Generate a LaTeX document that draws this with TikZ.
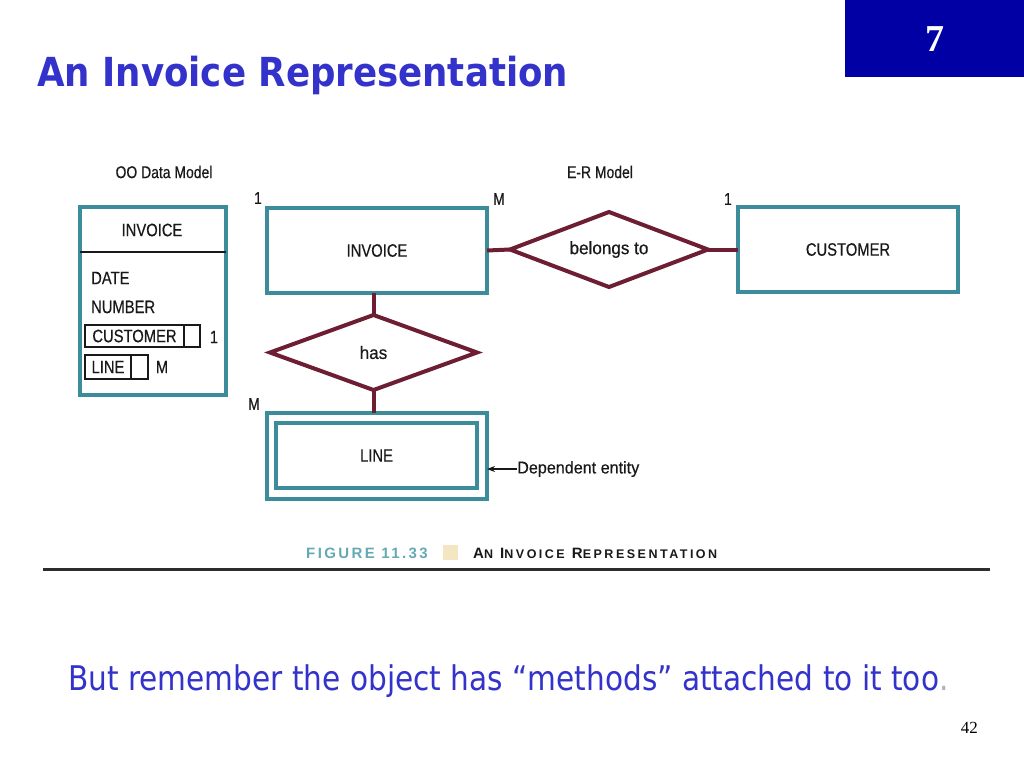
\documentclass[tikz,border=0pt]{standalone}
\usepackage{fontspec}
\setmainfont{Liberation Serif}
\newfontfamily\titlefont[FakeStretch=0.89]{DejaVu Sans}
\newfontfamily\bodyfont[FakeStretch=0.87]{DejaVu Sans}
\newfontfamily\diafont[FakeStretch=0.82,FakeBold=0.4]{Liberation Sans}
\newfontfamily\diafontw[FakeStretch=0.95,FakeBold=0.4]{Liberation Sans}
\newfontfamily\captfont{Liberation Sans}
\usetikzlibrary{shapes.geometric,arrows.meta}
\definecolor{teal}{RGB}{60,140,155}
\definecolor{maroon}{RGB}{110,30,50}
\definecolor{slideblue}{RGB}{51,51,204}
\definecolor{boxblue}{RGB}{0,0,165}
\definecolor{captteal}{RGB}{100,170,180}
\definecolor{beige}{RGB}{243,230,192}
\definecolor{rulegray}{RGB}{45,45,45}
\definecolor{ink}{RGB}{25,25,25}
\tikzset{
  lbl/.style={font=\diafont\fontsize{17}{17}\selectfont, inner sep=0pt, text=ink},
  lblw/.style={font=\diafontw\fontsize{17}{17}\selectfont, inner sep=0pt, text=ink},
  oolbl/.style={font=\diafont\fontsize{18}{18}\selectfont, inner sep=0pt, text=ink},
  entity/.style={draw=teal, line width=4pt, rectangle, inner sep=0pt, outer sep=0pt, font=\diafont\fontsize{18}{18}\selectfont, text=ink},
  relat/.style={draw=maroon, line width=4pt, diamond, aspect=2.7, inner sep=0pt, outer sep=0pt, font=\diafontw\fontsize{18}{18}\selectfont, text=ink},
  conn/.style={draw=maroon, line width=4pt},
  field/.style={draw=ink, line width=1.6pt, rectangle, inner sep=0pt, outer sep=0pt, font=\diafont\fontsize{18}{18}\selectfont, text=ink},
}
\begin{document}
\begin{tikzpicture}[x=1pt,y=-1pt]
\useasboundingbox (0,0) rectangle (1024,768);
\fill[white] (0,0) rectangle (1024,768);
% top-right number box
\node[fill=boxblue, minimum width=179pt, minimum height=77pt, inner sep=0pt, anchor=north west] (numbox) at (845,0) {};
\node[text=white, font=\bfseries\fontsize{38}{38}\selectfont] (num) at (numbox.center) {7};
% title
\node[anchor=base west, inner sep=0pt, text=slideblue, font=\titlefont\bfseries\fontsize{40}{40}\selectfont] (title) at (37,86) {An Invoice Representation};
% headings
\node[lbl] (oohead) at (164,172) {OO Data Model};
\node[lbl] (erhead) at (600,172) {E-R Model};
% OO box
\node[draw=teal, line width=4pt, rectangle, minimum width=146pt, minimum height=188pt, inner sep=0pt, outer sep=0pt] (oo) at (152.5,301) {};
\draw[ink, line width=2pt] (oo.north west) ++(0,45) coordinate (hl) -- (hl -| oo.east);
\node[oolbl] (ooinv) at (152,230) {INVOICE};
\node[oolbl, anchor=west] (oodate) at (91,278) {DATE};
\node[oolbl, anchor=west] (oonum) at (91,307) {NUMBER};
\node[field, minimum width=99pt, minimum height=22pt, anchor=west] (ocust) at (85,336) {CUSTOMER};
\node[field, minimum width=16pt, minimum height=22pt, anchor=west] (ocustp) at (ocust.east) {};
\node[oolbl] (ocust1) at (214,337) {1};
\node[field, minimum width=46pt, minimum height=24pt, anchor=west] (oline) at (85,367) {LINE};
\node[field, minimum width=17pt, minimum height=24pt, anchor=west] (olinep) at (oline.east) {};
\node[oolbl] (olineM) at (162,367) {M};
% E-R model
\node[entity, minimum width=220pt, minimum height=85pt] (inv) at (377,250.5) {INVOICE};
\node[entity, minimum width=220pt, minimum height=85pt] (cust) at (848,249.5) {CUSTOMER};
\node[relat, minimum width=198pt, minimum height=75pt] (bel) at (609,249.5) {belongs to};
\node[relat, minimum width=207pt, minimum height=75pt] (has) at (373.5,352.5) {has};
\node[entity, minimum width=220pt, minimum height=86pt] (lineout) at (377,456) {};
\node[entity, minimum width=201pt, minimum height=65pt] (line) at (376.5,455.5) {LINE};
\draw[conn] (inv.east) -- (bel.west);
\draw[conn] (bel.east) -- (cust.west);
\draw[conn] (inv.south -| has.north) -- (has.north);
\draw[conn] (has.south) -- (has.south |- lineout.north);
% cardinalities
\node[lbl] (c1) at (258,198) {1};
\node[lbl] (c2) at (499,199) {M};
\node[lbl] (c3) at (728,199) {1};
\node[lbl] (c4) at (254,404) {M};
% dependent entity
\node[lblw, anchor=west] (dep) at (517,469) {Dependent entity};
\draw[ink, line width=1.5pt, -{Stealth[length=8pt,width=6pt]}] (dep.west) -- (dep.west -| lineout.east);
% caption
\node[anchor=base west, inner sep=0pt, text=captteal, font=\captfont\bfseries\fontsize{15}{15}\selectfont\addfontfeature{LetterSpace=16}] (figno) at (306,558) {FIGURE 11.33};
\fill[beige] (443,545) rectangle (458,560);
\node[anchor=base west, inner sep=0pt, text=ink, font=\captfont\bfseries\fontsize{15}{15}\selectfont\addfontfeature{LetterSpace=20}] (figcap) at (473,558) {A{\fontsize{12.5}{12.5}\selectfont N} I{\fontsize{12.5}{12.5}\selectfont NVOICE} R{\fontsize{12.5}{12.5}\selectfont EPRESENTATION}};
\draw[rulegray, line width=3pt] (43,569) coordinate (r1) -- (990,569) coordinate (r2);
% bottom text
\node[anchor=base west, inner sep=0pt, text=slideblue, font=\bodyfont\fontsize{34}{34}\selectfont] (remark) at (68,690) {But remember the object has “methods” attached to it too\textcolor{gray!60}{.}};
\node[anchor=base east, inner sep=0pt, font=\fontsize{17}{17}\selectfont] (page) at (978,733) {42};
\end{tikzpicture}
\end{document}
